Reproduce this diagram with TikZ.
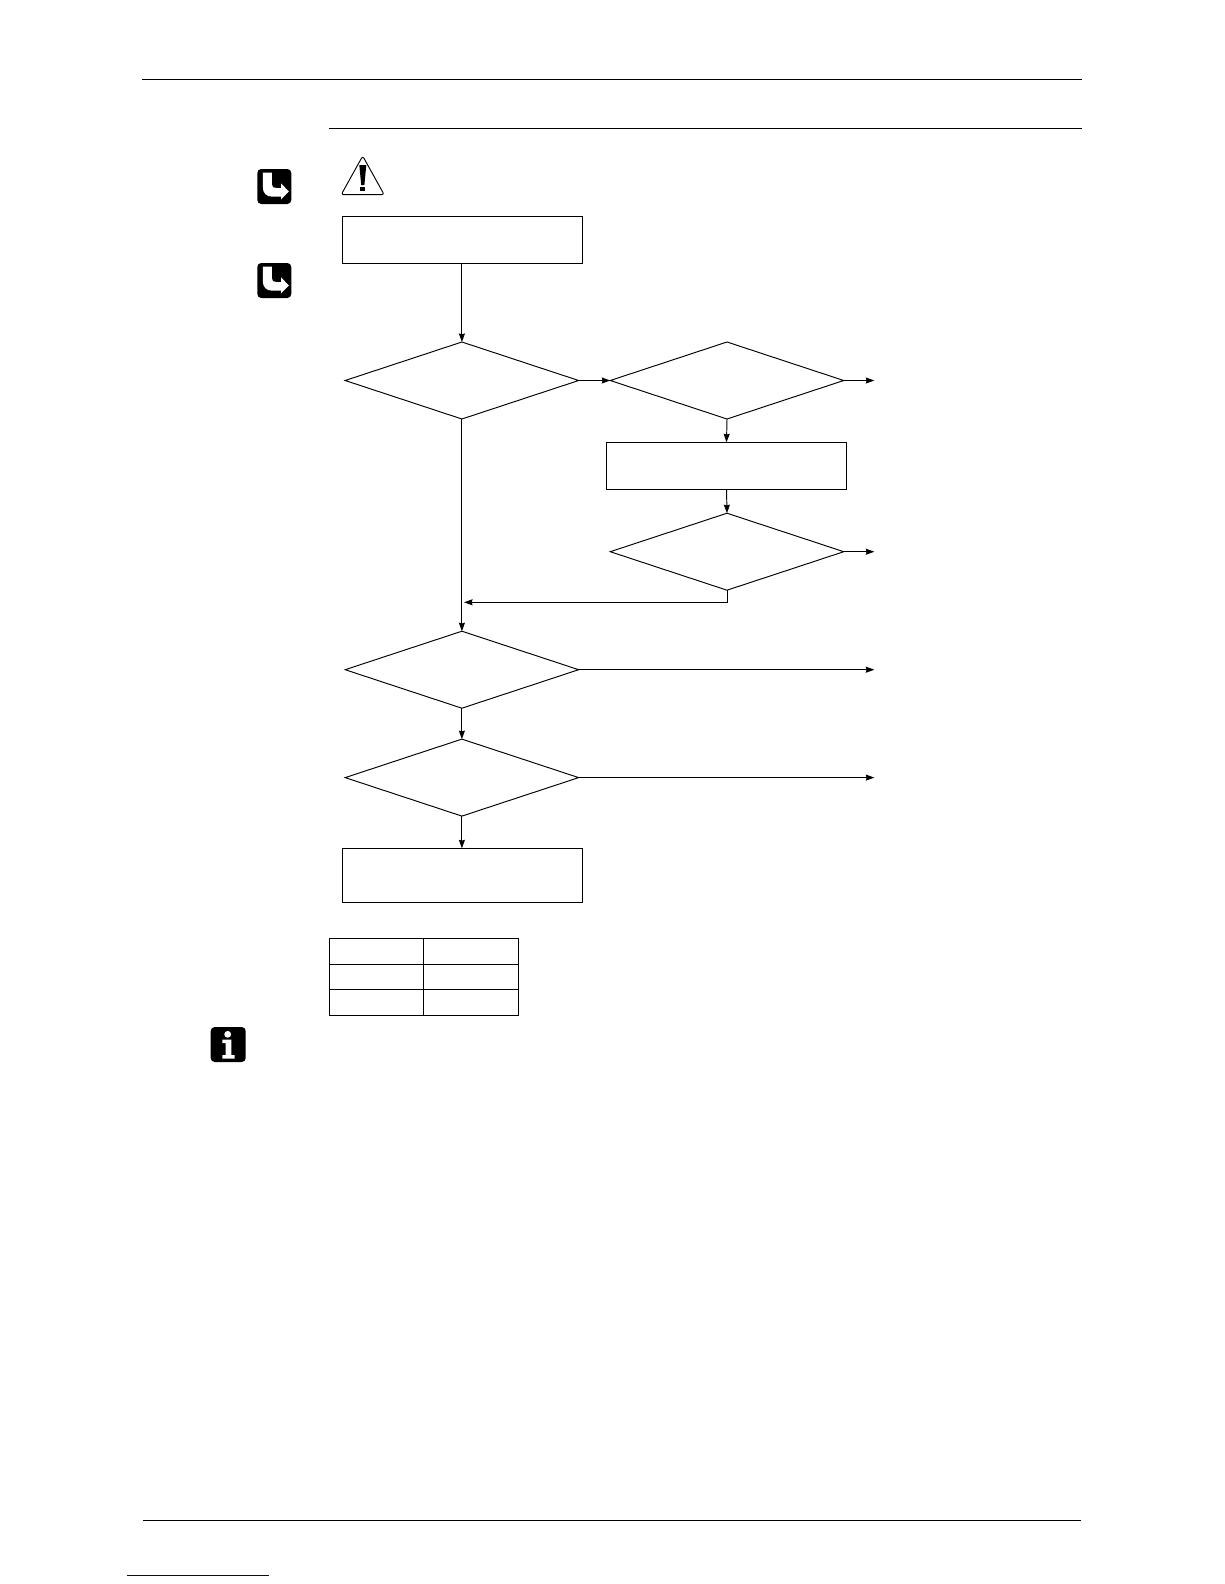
\documentclass[tikz,border=0pt]{standalone}
\usepackage{tikz}
\usetikzlibrary{arrows.meta,shapes.geometric}
\tikzset{
  stepbox/.style={draw,rectangle,minimum width=240pt,minimum height=47pt,inner sep=0pt,outer sep=0pt},
  check/.style={draw,diamond,minimum width=233.5pt,minimum height=77pt,inner sep=0pt,outer sep=0pt},
  cell/.style={draw,rectangle,inner sep=0pt,outer sep=0pt,minimum height=25.5pt},
}
\newcommand{\jumpicon}[2]{%
  \fill[black,rounded corners=4pt] (#1,#2) rectangle ++(34,35);
  \fill[white] (#1+5.5,#2+3.7) -- (#1+14.5,#2+3.7) -- (#1+14.5,#2+15)
    .. controls (#1+14.5,#2+18) and (#1+16,#2+19) .. (#1+19,#2+19)
    -- (#1+23.7,#2+19) -- (#1+23.7,#2+14.3) -- (#1+31.5,#2+22.5) -- (#1+23.7,#2+30.5) -- (#1+23.7,#2+27.7)
    -- (#1+15,#2+27.7) .. controls (#1+9,#2+27.7) and (#1+5.5,#2+24) .. (#1+5.5,#2+18) -- cycle;
}
\begin{document}
\begin{tikzpicture}[x=1pt,y=-1pt,line width=0.95pt,>={Stealth[length=8.5pt,width=6pt,inset=0.8pt]}]
  \useasboundingbox (0,0) rectangle (1224,1584);
  % page rules
  \coordinate (topl) at (142,79.3);
  \coordinate (topr) at (1082,79.3);
  \coordinate (subl) at (329,128.3);
  \coordinate (subr) at (1082,128.3);
  \coordinate (footl) at (143,1520.3);
  \coordinate (footr) at (1081,1520.3);
  \coordinate (linkl) at (127,1575);
  \coordinate (linkr) at (269,1575);
  \draw (topl) -- (topr);
  \draw (subl) -- (subr);
  \draw (footl) -- (footr);
  \draw[blue!50!black] (linkl) -- (linkr);
  % margin icons
  \jumpicon{257.3}{169}
  \jumpicon{257.3}{263}
  \fill[black,rounded corners=4pt] (210.7,1027) rectangle (245.7,1062);
  \fill[white] (227.7,1034.3) circle (3.4);
  \fill[white] (222.3,1039.5) -- (231.3,1039.5) -- (231.3,1055) -- (234.7,1055) -- (234.7,1058.7)
    -- (222.3,1058.7) -- (222.3,1055) -- (225.5,1055) -- (225.5,1043) -- (222.3,1043) -- cycle;
  % warning sign
  \draw[line join=round,rounded corners=2.5pt] (362.7,156) -- (384.2,194.7) -- (341.2,194.7) -- cycle;
  \fill[black] (359.3,165) -- (366.3,165) -- (364.4,185) -- (361.2,185) -- cycle;
  \fill[black] (360,186.7) rectangle (365.4,191.3);
  % flow
  \node[stepbox] (start) at (462.5,239.7) {};
  \node[check] (chka) at (461.9,380.5) {};
  \node[check] (chkb) at (727,380.5) {};
  \node[stepbox] (fix) at (726.5,465.8) {};
  \node[check] (chkc) at (727,551.7) {};
  \node[check] (chkd) at (461.9,669.7) {};
  \node[check] (chke) at (461.9,777.6) {};
  \node[stepbox,minimum height=53.7pt] (stop) at (462.5,875.2) {};
  \coordinate (outb) at (874.3,380.5);
  \coordinate (outc) at (874.3,551.7);
  \coordinate (outd) at (874.3,669.7);
  \coordinate (oute) at (874.3,777.6);
  \coordinate (back) at (464,602.3);
  \draw[->] (start.south -| chka.north) -- (chka.north);
  \draw[->] (chka.east) -- (chkb.west);
  \draw[->] (chkb.east) -- (outb);
  \draw[->] (chkb.south) -- (fix.north);
  \draw[->] (fix.south) -- (chkc.north);
  \draw[->] (chkc.east) -- (outc);
  \draw[->] (chkc.south) |- (back);
  \draw[->] (chka.south) -- (chkd.north);
  \draw[->] (chkd.east) -- (outd);
  \draw[->] (chkd.south) -- (chke.north);
  \draw[->] (chke.east) -- (oute);
  \draw[->] (chke.south) -- (stop.north -| chke.south);
  % table
  \foreach \r/\y/\h in {1/951.3/26,2/976.8/25,3/1002.3/26} {
    \node[cell,minimum width=94pt,minimum height=\h pt] (tl\r) at (376.3,\y) {};
    \node[cell,minimum width=95.4pt,minimum height=\h pt] (tr\r) at (471,\y) {};
  }
\end{tikzpicture}
\end{document}
